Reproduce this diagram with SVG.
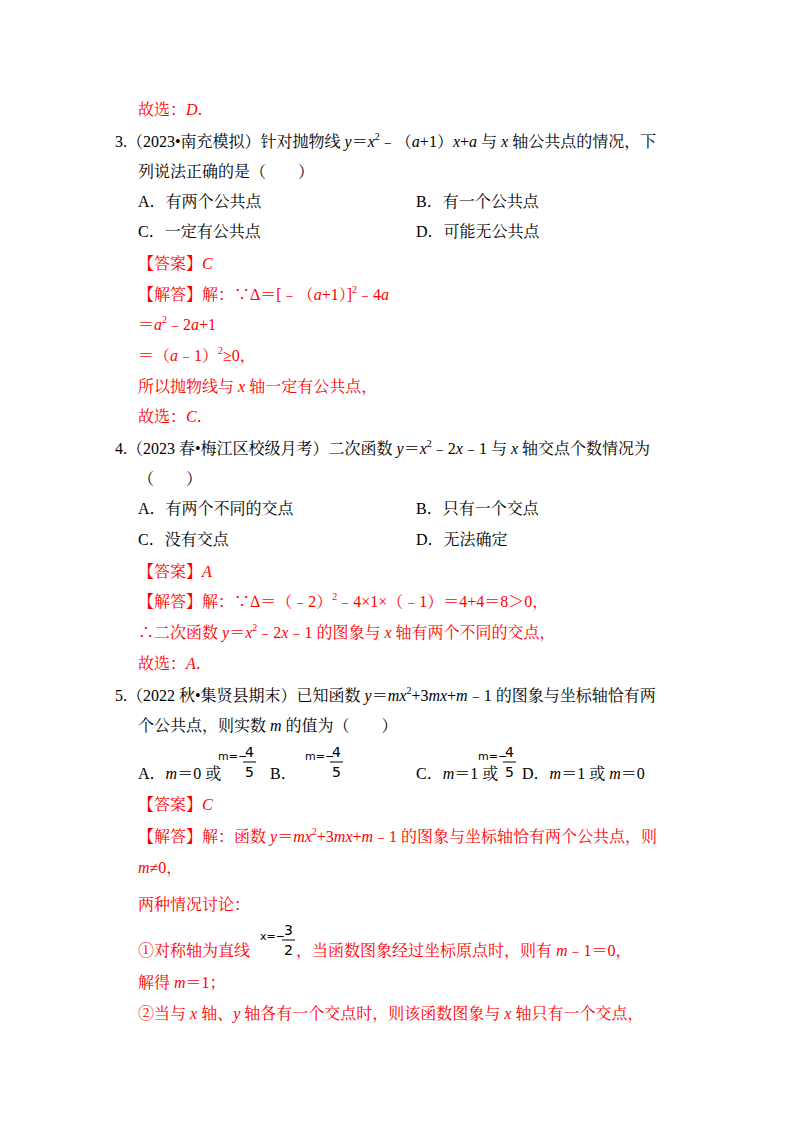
<svg xmlns="http://www.w3.org/2000/svg" width="800" height="1132" viewBox="0 0 800 1132">
<style>
text{font-family:"Liberation Serif","Noto Serif CJK SC","Noto Sans CJK SC",serif;font-size:16px;fill:#000}
.r{fill:#f00}
.i{font-style:italic}
.s{font-size:10px}
.sm{font-family:"DejaVu Sans",sans-serif;font-size:11px}
.f{font-family:"DejaVu Sans",sans-serif;font-size:14px}
</style>
<rect width="800" height="1132" fill="#fff"/>
<text x="138" y="115" class="r">故选：<tspan class="i">D</tspan>．</text>
<text x="115" y="147">3.（2023•南充模拟）针对抛物线 <tspan class="i">y</tspan>＝<tspan class="i">x</tspan><tspan class="s" dy="-7">2</tspan><tspan dy="7">﹣（</tspan><tspan class="i">a</tspan>+1）<tspan class="i">x</tspan>+<tspan class="i">a</tspan> 与 <tspan class="i">x</tspan> 轴公共点的情况，下</text>
<text x="138" y="177">列说法正确的是（　　）</text>
<text x="138" y="207">A．有两个公共点</text>
<text x="416" y="207">B．有一个公共点</text>
<text x="138" y="237">C．一定有公共点</text>
<text x="416" y="237">D．可能无公共点</text>
<text x="138" y="269" class="r">【答案】<tspan class="i">C</tspan></text>
<text x="138" y="300" class="r">【解答】解：∵Δ＝[﹣（<tspan class="i">a</tspan>+1）]<tspan class="s" dy="-7">2</tspan><tspan dy="7">﹣4</tspan><tspan class="i">a</tspan></text>
<text x="138" y="330" class="r">＝<tspan class="i">a</tspan><tspan class="s" dy="-7">2</tspan><tspan dy="7">﹣2</tspan><tspan class="i">a</tspan>+1</text>
<text x="138" y="361" class="r">＝（<tspan class="i">a</tspan>﹣1）<tspan class="s" dy="-7">2</tspan><tspan dy="7">≥0，</tspan></text>
<text x="138" y="392" class="r">所以抛物线与 <tspan class="i">x</tspan> 轴一定有公共点，</text>
<text x="138" y="422" class="r">故选：<tspan class="i">C</tspan>．</text>
<text x="115" y="454">4.（2023 春•梅江区校级月考）二次函数 <tspan class="i">y</tspan>＝<tspan class="i">x</tspan><tspan class="s" dy="-7">2</tspan><tspan dy="7">﹣2</tspan><tspan class="i">x</tspan>﹣1 与 <tspan class="i">x</tspan> 轴交点个数情况为</text>
<text x="138" y="484">（　　）</text>
<text x="138" y="514">A．有两个不同的交点</text>
<text x="416" y="514">B．只有一个交点</text>
<text x="138" y="545">C．没有交点</text>
<text x="416" y="545">D．无法确定</text>
<text x="138" y="577" class="r">【答案】<tspan class="i">A</tspan></text>
<text x="138" y="607" class="r">【解答】解：∵Δ＝（﹣2）<tspan class="s" dy="-7">2</tspan><tspan dy="7">﹣4×1×（﹣1）＝4+4＝8＞0，</tspan></text>
<text x="138" y="638" class="r">∴二次函数 <tspan class="i">y</tspan>＝<tspan class="i">x</tspan><tspan class="s" dy="-7">2</tspan><tspan dy="7">﹣2</tspan><tspan class="i">x</tspan>﹣1 的图象与 <tspan class="i">x</tspan> 轴有两个不同的交点，</text>
<text x="138" y="669" class="r">故选：<tspan class="i">A</tspan>．</text>
<text x="115" y="701">5.（2022 秋•集贤县期末）已知函数 <tspan class="i">y</tspan>＝<tspan class="i">mx</tspan><tspan class="s" dy="-7">2</tspan><tspan dy="7">+3</tspan><tspan class="i">mx</tspan>+<tspan class="i">m</tspan>﹣1 的图象与坐标轴恰有两</text>
<text x="138" y="731">个公共点，则实数 <tspan class="i">m</tspan> 的值为（　　）</text>
<text x="138" y="779">A．<tspan class="i">m</tspan>＝0 或</text>
<g><text x="218" y="760" class="sm">m=−</text><text x="245" y="757" class="f">4</text><line x1="243" y1="762" x2="256" y2="762" stroke="#000"/><text x="245" y="777" class="f">5</text></g>
<text x="270" y="779">B．</text>
<g><text x="305" y="760" class="sm">m=−</text><text x="332" y="757" class="f">4</text><line x1="330" y1="762" x2="343" y2="762" stroke="#000"/><text x="332" y="777" class="f">5</text></g>
<text x="416" y="779">C．<tspan class="i">m</tspan>＝1 或</text>
<g><text x="478" y="760" class="sm">m=−</text><text x="505" y="757" class="f">4</text><line x1="503" y1="762" x2="516" y2="762" stroke="#000"/><text x="505" y="777" class="f">5</text></g>
<text x="522" y="779">D．<tspan class="i">m</tspan>＝1 或 <tspan class="i">m</tspan>＝0</text>
<text x="138" y="810" class="r">【答案】<tspan class="i">C</tspan></text>
<text x="138" y="842" class="r">【解答】解：函数 <tspan class="i">y</tspan>＝<tspan class="i">mx</tspan><tspan class="s" dy="-7">2</tspan><tspan dy="7">+3</tspan><tspan class="i">mx</tspan>+<tspan class="i">m</tspan>﹣1 的图象与坐标轴恰有两个公共点，则</text>
<text x="138" y="873" class="r"><tspan class="i">m</tspan>≠0，</text>
<text x="138" y="910" class="r">两种情况讨论：</text>
<text x="138" y="956" class="r">①对称轴为直线</text>
<g><text x="260" y="940" class="sm">x=−</text><text x="284" y="935" class="f">3</text><line x1="282" y1="940" x2="295" y2="940" stroke="#000"/><text x="284" y="955" class="f">2</text></g>
<text x="296" y="956" class="r">，当函数图象经过坐标原点时，则有 <tspan class="i">m</tspan>﹣1＝0，</text>
<text x="138" y="988" class="r">解得 <tspan class="i">m</tspan>＝1；</text>
<text x="138" y="1019" class="r">②当与 <tspan class="i">x</tspan> 轴、<tspan class="i">y</tspan> 轴各有一个交点时，则该函数图象与 <tspan class="i">x</tspan> 轴只有一个交点，</text>
</svg>
